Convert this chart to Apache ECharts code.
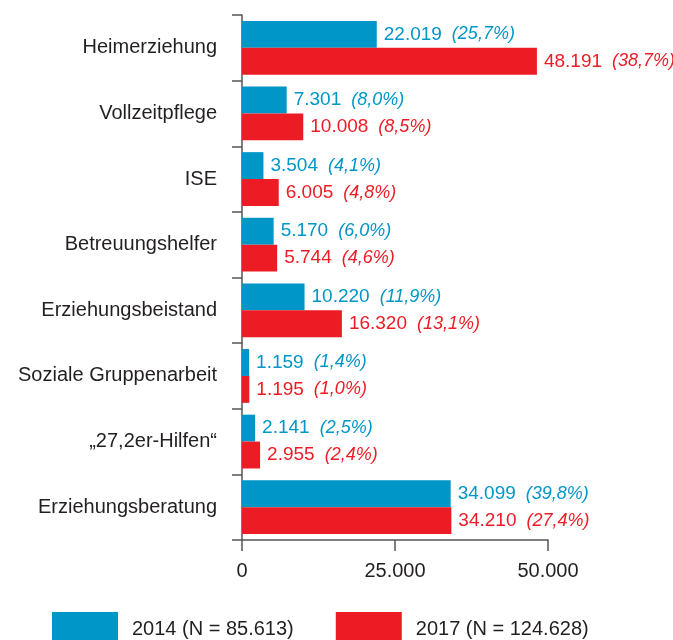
<!DOCTYPE html>
<html>
<head>
<meta charset="utf-8">
<script src="https://cdn.jsdelivr.net/npm/echarts@6/dist/echarts.min.js"></script>
<style>
  html, body { margin: 0; padding: 0; background: #fff; }
  #chart { width: 673px; height: 640px; }
</style>
</head>
<body>
<div id="chart"></div>
<script>
const categories = ['Heimerziehung', 'Vollzeitpflege', 'ISE', 'Betreuungshelfer', 'Erziehungsbeistand', 'Soziale Gruppenarbeit', '\u201E27,2er-Hilfen\u201C', 'Erziehungsberatung']
const values2014 = [22019, 7301, 3504, 5170, 10220, 1159, 2141, 34099]
const share2014 = [25.7, 8.0, 4.1, 6.0, 11.9, 1.4, 2.5, 39.8]
const values2017 = [48191, 10008, 6005, 5744, 16320, 1195, 2955, 34210]
const share2017 = [38.7, 8.5, 4.8, 4.6, 13.1, 1.0, 2.4, 27.4]
const legendNames = ['2014 (N = 85.613)', '2017 (N = 124.628)']
const xTicks = [0, 25000, 50000]

const BLUE = '#0096c8'
const RED = '#ed1c24'
const TEXT = '#231f20'
const AXIS = '#555'
const FONT = '"Liberation Sans", Arial, sans-serif'

// 22019 -> "22.019"
function fmtNum(v) {
  return String(v).replace(/\B(?=(\d{3})+(?!\d))/g, '.')
}
function fmtPct(p) {
  return '(' + p.toFixed(1).replace('.', ',') + '%)'
}

function makeSeries(name, values, shares, color) {
  return {
    name: name,
    type: 'bar',
    data: values,
    barGap: '0%',
    barCategoryGap: '18%',
    itemStyle: { color: color },
    label: {
      show: true,
      position: 'right',
      distance: 7,
      formatter: function (p) {
        return '{n|' + fmtNum(p.value) + '}{p|' + fmtPct(shares[p.dataIndex]) + '}'
      },
      rich: {
        n: { color: color, fontSize: 19, fontFamily: FONT, padding: [0, 10, 0, 0] },
        p: { color: color, fontSize: 18, fontFamily: FONT, fontStyle: 'italic' }
      }
    }
  }
}

const chart = echarts.init(document.getElementById('chart'))
chart.setOption({
  animation: false,
  backgroundColor: '#fff',
  grid: { left: 242, right: 125, top: 15, bottom: 100, containLabel: false },
  legend: {
    data: legendNames,
    left: 52,
    top: 612,
    padding: 0,
    icon: 'rect',
    itemWidth: 66,
    itemHeight: 34,
    itemGap: 42,
    textStyle: { color: TEXT, fontSize: 20, fontFamily: FONT, padding: [0, 0, 0, 9] }
  },
  xAxis: {
    type: 'value',
    min: xTicks[0],
    max: xTicks[xTicks.length - 1],
    interval: xTicks[1] - xTicks[0],
    axisLine: { show: true, lineStyle: { color: AXIS, width: 1.5 } },
    axisTick: { show: true, length: 11, lineStyle: { color: AXIS, width: 1.5 } },
    splitLine: { show: false },
    axisLabel: {
      color: TEXT,
      fontSize: 20,
      fontFamily: FONT,
      margin: 21,
      formatter: function (v) { return fmtNum(v) }
    }
  },
  yAxis: {
    type: 'category',
    data: categories,
    inverse: true,
    axisLine: { show: true, lineStyle: { color: AXIS, width: 1.5 } },
    axisTick: { show: true, length: 10, lineStyle: { color: AXIS, width: 1.5 } },
    axisLabel: { color: TEXT, fontSize: 20, fontFamily: FONT, margin: 25 }
  },
  series: [
    makeSeries(legendNames[0], values2014, share2014, BLUE),
    makeSeries(legendNames[1], values2017, share2017, RED)
  ]
})
</script>
</body>
</html>
